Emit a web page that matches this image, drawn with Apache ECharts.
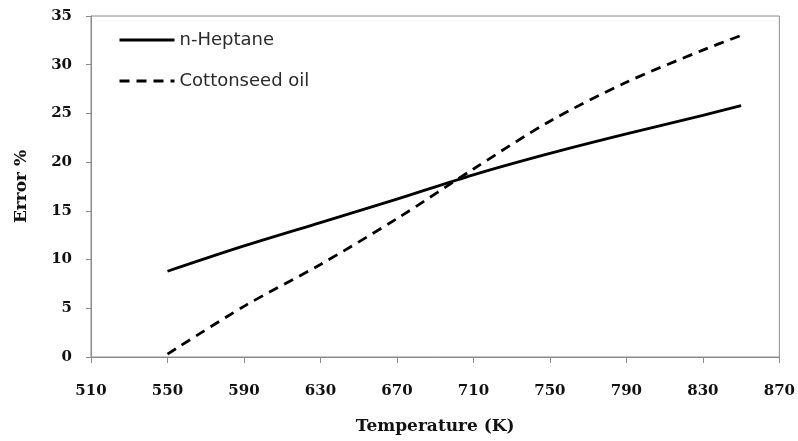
<!DOCTYPE html>
<html>
<head>
<meta charset="utf-8">
<script src="https://cdn.jsdelivr.net/npm/echarts@6/dist/echarts.min.js"></script>
<style>
  html, body { margin: 0; padding: 0; background: #fff; }
  #chart { width: 798px; height: 441px; }
</style>
</head>
<body>
<div id="chart"></div>
<script>
// Temperature samples (K)
const temperatures = [550, 590, 630, 670, 710, 750, 790, 830, 850];
// Error (%) for each fuel
const heptaneError = [8.8, 11.4, 13.8, 16.2, 18.7, 20.9, 22.9, 24.8, 25.8];
const cottonseedError = [0.3, 5.2, 9.5, 14.2, 19.3, 24.2, 28.2, 31.5, 33.0];
const seriesNames = ['n-Heptane', 'Cottonseed oil'];

const pairs = (xs, ys) => xs.map((x, i) => [x, ys[i]]);

const axisGray = '#8c8c8c';
const tickFont = { fontFamily: 'DejaVu Serif', fontWeight: 'bold', fontSize: 15, color: '#111' };
const titleFont = { fontFamily: 'DejaVu Serif', fontWeight: 'bold', fontSize: 17, color: '#111' };

const chart = echarts.init(document.getElementById('chart'));
chart.setOption({
  animation: false,
  backgroundColor: '#fff',
  grid: {
    left: 91, right: 18, top: 16, bottom: 84,
    show: true, borderColor: axisGray, borderWidth: 1
  },
  legend: {
    orient: 'vertical',
    left: 113, top: 25,
    itemWidth: 55, itemHeight: 14, itemGap: 21,
    itemStyle: { opacity: 0 },
    lineStyle: { width: 3 },
    textStyle: { fontFamily: 'DejaVu Sans', fontSize: 18, color: '#2a2a2a', lineHeight: 20 },
    data: seriesNames
  },
  xAxis: {
    type: 'value',
    min: 510, max: 870, interval: 40,
    name: 'Temperature (K)',
    nameLocation: 'middle', nameGap: 61,
    nameTextStyle: titleFont,
    axisLine: { show: true, lineStyle: { color: axisGray, width: 1 } },
    axisTick: { show: true, length: 6, lineStyle: { color: axisGray } },
    axisLabel: Object.assign({ margin: 27 }, tickFont),
    splitLine: { show: false }
  },
  yAxis: {
    type: 'value',
    min: 0, max: 35, interval: 5,
    name: 'Error %',
    nameLocation: 'middle', nameGap: 61,
    nameTextStyle: titleFont,
    axisLine: { show: true, lineStyle: { color: axisGray, width: 1 } },
    axisTick: { show: true, length: 5, lineStyle: { color: axisGray } },
    axisLabel: Object.assign({ margin: 19 }, tickFont),
    splitLine: { show: false }
  },
  series: [
    {
      name: seriesNames[0],
      type: 'line',
      data: pairs(temperatures, heptaneError),
      smooth: 0.3,
      symbol: 'none',
      lineStyle: { color: '#000', width: 2.8, type: 'solid' },
      itemStyle: { color: '#000' }
    },
    {
      name: seriesNames[1],
      type: 'line',
      data: pairs(temperatures, cottonseedError),
      smooth: 0.3,
      symbol: 'none',
      lineStyle: { color: '#000', width: 2.8, type: [10, 7] },
      itemStyle: { color: '#000' }
    }
  ]
});
</script>
</body>
</html>
